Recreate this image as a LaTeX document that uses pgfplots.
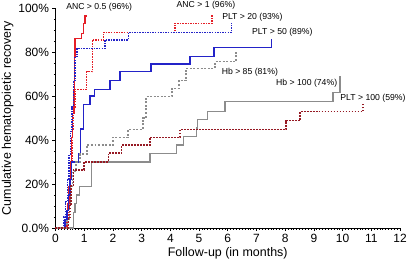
\documentclass[border=0pt]{standalone}
\usepackage{fontspec}
\setmainfont{Liberation Sans}
\usepackage{pgfplots}
\pgfplotsset{compat=1.18}
\definecolor{cRed}{RGB}{228,30,38}
\definecolor{cBlue}{RGB}{35,35,200}
\definecolor{cGray}{RGB}{140,140,140}
\definecolor{cDRed}{RGB}{150,25,35}
\begin{document}
\begin{tikzpicture}
\begin{axis}[
  scale only axis,
  width=344.5bp, height=220bp,
  xmin=0, xmax=12, ymin=0, ymax=100,
  axis lines*=left,
  axis line style={line width=0.9pt},
  clip=false,
  xtick={0,1,...,12},
  xticklabels={0,1,2,3,4,5,6,7,8,9,10,11,12},
  ytick={0,20,40,60,80,100},
  yticklabels={0.0\%,20\%,40\%,60\%,80\%,100\%},
  minor x tick num=9,
  minor y tick num=3,
  tick align=outside,
  major tick length=3bp,
  minor tick length=1.5bp,
  tick style={black, line width=0.6pt},
  tick label style={font=\fontsize{12}{13}\selectfont},
  /pgf/number format/assume math mode=true,
  xlabel={Follow-up (in months)},
  ylabel={Cumulative hematopoietic recovery},
  label style={font=\fontsize{12.5}{13}\selectfont},
  xlabel style={yshift=2bp},
  ylabel style={yshift=-2bp},
]
% ANC > 0.5 (red solid)
\addplot[cRed, line width=1.4pt] coordinates {
(0,0) (0.35,0) (0.35,4) (0.42,4) (0.42,11) (0.47,11) (0.47,19) (0.52,19) (0.52,30) (0.56,30) (0.56,41) (0.6,41) (0.6,52) (0.64,52) (0.64,63) (0.66,63) (0.66,78) (0.68,78) (0.68,86) (0.91,86) (0.91,88.5) (0.97,88.5) (0.97,93) (1.03,93) (1.03,96.4) (1.09,96.4)};
% ANC > 1 (red dotted)
\addplot[cRed, line width=1.3pt, dash pattern=on 1.5pt off 1.1pt] coordinates {
(0,0) (0.4,0) (0.4,4) (0.47,4) (0.47,15) (0.53,15) (0.53,30) (0.58,30) (0.58,45) (0.62,45) (0.62,55) (0.68,55) (0.68,63) (1.09,63) (1.09,71) (1.28,71) (1.28,85.5) (1.67,85.5) (1.67,89) (4.16,89) (4.16,93) (5.45,93) (5.45,97)};
% PLT > 20 (blue dotted)
\addplot[cBlue, line width=1.3pt, dash pattern=on 1.5pt off 1.1pt] coordinates {
(0,0) (0.3,0) (0.3,5) (0.36,5) (0.36,12) (0.42,12) (0.42,22) (0.47,22) (0.47,33) (0.52,33) (0.52,44) (0.57,44) (0.57,55) (0.62,55) (0.62,67) (0.68,67) (0.68,78) (0.75,78) (0.75,81.5) (1.72,81.5) (1.72,85.5) (2.54,85.5) (2.54,89) (6.14,89) (6.14,93)};
% PLT > 50 (blue solid)
\addplot[cBlue, line width=1.4pt] coordinates {
(0,0) (0.33,0) (0.33,4) (0.4,4) (0.4,8) (0.45,8) (0.45,15) (0.5,15) (0.5,22) (0.55,22) (0.55,30) (0.8,30) (0.8,34) (0.88,34) (0.88,45) (0.97,45) (0.97,56) (1.2,56) (1.2,60) (1.35,60) (1.35,63) (1.9,63) (1.9,67) (2.25,67) (2.25,71) (3.33,71) (3.33,74.5) (4.69,74.5) (4.69,78) (5.52,78) (5.52,82) (7.53,82) (7.53,86)};
% Hb > 85 (gray dotted)
\addplot[cGray, line width=1.5pt, dash pattern=on 2pt off 1.6pt] coordinates {
(0,0) (0.4,0) (0.4,4) (0.48,4) (0.48,11) (0.53,11) (0.53,19) (0.6,19) (0.6,26) (0.72,26) (0.72,30) (0.85,30) (0.85,33.6) (1.09,33.6) (1.09,37.7) (2.0,37.7) (2.0,41.2) (2.53,41.2) (2.53,44.8) (3.05,44.8) (3.05,50) (3.15,50) (3.15,59.7) (4.05,59.7) (4.05,63.5) (4.3,63.5) (4.3,67) (4.55,67) (4.55,72.6) (5.55,72.6) (5.55,75.6) (6.29,75.6) (6.29,80)};
% Hb > 100 (gray solid)
\addplot[cGray, line width=1.3pt] coordinates {
(0,0) (0.62,0) (0.62,7) (0.68,7) (0.68,11) (0.74,11) (0.74,15) (0.83,15) (0.83,19) (1.26,19) (1.26,30) (3.29,30) (3.29,34) (4.22,34) (4.22,37.7) (4.45,37.7) (4.45,41.5) (4.9,41.5) (4.9,45.5) (4.95,45.5) (4.95,49.4) (5.3,49.4) (5.3,52.9) (5.9,52.9) (5.9,57.4) (9.67,57.4) (9.67,61.5) (9.91,61.5) (9.91,69)};
% PLT > 100 (dark red dotted)
\addplot[cDRed, line width=1.6pt, dash pattern=on 1.8pt off 1.2pt] coordinates {
(0,0) (0.45,0) (0.45,4) (0.5,4) (0.5,11) (0.55,11) (0.55,19) (0.62,19) (0.62,26.4) (1.0,26.4) (1.0,30) (1.84,30) (1.84,34) (2.3,34) (2.3,37.7) (3.29,37.7) (3.29,41.2) (4.34,41.2) (4.34,44.8) (8.03,44.8) (8.03,48.8) (8.52,48.8) (8.52,52.9) (10.72,52.9) (10.72,56.7)};
\begin{scope}[every node/.style={font=\fontsize{8.7}{9}\selectfont, inner sep=0pt}]
\node at (axis cs:1.52,100.3) {ANC > 0.5 (96\%)};
\node at (axis cs:5.24,101.4) {ANC > 1 (96\%)};
\node at (axis cs:6.86,96.0) {PLT > 20 (93\%)};
\node at (axis cs:7.90,88.9) {PLT > 50 (89\%)};
\node at (axis cs:6.77,71.0) {Hb > 85 (81\%)};
\node at (axis cs:8.75,65.8) {Hb > 100 (74\%)};
\node at (axis cs:11.06,59.2) {PLT > 100 (59\%)};
\end{scope}
\coordinate (bl) at (rel axis cs:0,0);
\coordinate (tr) at (rel axis cs:1,1);
\end{axis}
\pgfresetboundingbox
\path[use as bounding box] ([shift={(-55.5bp,-40bp)}]bl) rectangle ([shift={(7bp,8bp)}]tr);
\end{tikzpicture}
\end{document}
